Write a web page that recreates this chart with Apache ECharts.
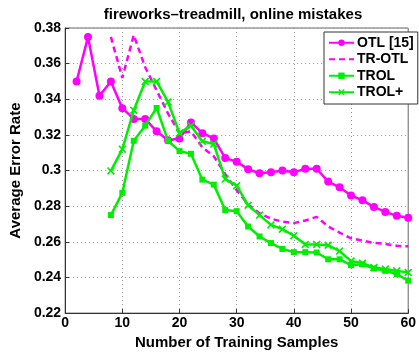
<!DOCTYPE html>
<html><head><meta charset="utf-8">
<script src="https://cdn.jsdelivr.net/npm/echarts@6/dist/echarts.min.js"></script>
<style>html,body{margin:0;padding:0;background:#fff}#c{width:419px;height:355px}</style>
</head><body><div id="c"></div>
<script>
const titleText = 'fireworks\u2013treadmill, online mistakes';
const xName = 'Number of Training Samples';
const yName = 'Average Error Rate';
const seriesNames = ['OTL [15]', 'TR-OTL', 'TROL', 'TROL+'];
const xOTL = [2,4,6,8,10,12,14,16,18,20,22,24,26,28,30,32,34,36,38,40,42,44,46,48,50,52,54,56,58,60];
const otl = [0.350,0.375,0.342,0.350,0.335,0.329,0.329,0.322,0.317,0.318,0.327,0.321,0.318,0.307,0.305,0.3007,0.2985,0.299,0.300,0.299,0.301,0.301,0.2938,0.2906,0.286,0.2833,0.2796,0.2768,0.2746,0.2735];
const xRest = [8,10,12,14,16,18,20,22,24,26,28,30,32,34,36,38,40,42,44,46,48,50,52,54,56,58,60];
const trotl = [0.375,0.352,0.376,0.358,0.345,0.332,0.321,0.322,0.313,0.308,0.298,0.289,0.281,0.276,0.273,0.2713,0.2705,0.272,0.274,0.2686,0.2652,0.262,0.2607,0.2594,0.2588,0.2578,0.2575];
const trol = [0.275,0.2875,0.3167,0.3252,0.3351,0.3167,0.3109,0.3094,0.2949,0.2921,0.2778,0.2772,0.2686,0.263,0.2593,0.256,0.2542,0.2542,0.254,0.2502,0.2502,0.2469,0.2474,0.245,0.2437,0.2419,0.2382];
const trolPlus = [0.2998,0.312,0.3338,0.350,0.350,0.3385,0.321,0.3252,0.3164,0.3149,0.2952,0.2915,0.2805,0.275,0.2695,0.2671,0.2634,0.2585,0.2585,0.2581,0.2548,0.2492,0.248,0.2456,0.2447,0.2437,0.2428];

const zip = (xs, ys) => xs.map((x, i) => [x, ys[i]]);
const MAG = '#ff00ff', GRN = '#00ee00';
const FONT = 'Liberation Sans';
const xMark = 'path://M0,1.5L1.5,0L5,3.5L8.5,0L10,1.5L6.5,5L10,8.5L8.5,10L5,6.5L1.5,10L0,8.5L3.5,5Z';

const chart = echarts.init(document.getElementById('c'), null, {renderer: 'canvas'});
chart.setOption({
  animation: false,
  backgroundColor: '#fff',
  textStyle: {fontFamily: FONT},
  title: {text: titleText, left: 228, top: 2, textAlign: 'center',
    textStyle: {fontFamily: FONT, fontWeight: 'bold', fontSize: 15, color: '#000'}},
  grid: {left: 48, right: 3, top: 28, bottom: 37, show: true, borderColor: '#666', borderWidth: 1},
  legend: {
    orient: 'vertical', left: 324, top: 32, width: 89,
    padding: [3, 4, 4, 4], itemGap: 1, itemWidth: 25, itemHeight: 8,
    backgroundColor: '#fff', borderColor: '#333', borderWidth: 1,
    textStyle: {fontFamily: FONT, fontWeight: 'bold', fontSize: 14, color: '#000', lineHeight: 15.5, padding: [0,0,0,-2]},
    data: [seriesNames[0], {name: seriesNames[1], itemStyle: {opacity: 0}}, seriesNames[2], seriesNames[3]]
  },
  xAxis: {
    type: 'value', min: 0, max: 60, interval: 10,
    name: xName, nameLocation: 'middle', nameGap: 16,
    nameTextStyle: {fontFamily: FONT, fontWeight: 'bold', fontSize: 15, color: '#000'},
    axisLine: {show: true, lineStyle: {color: '#333', width: 1}},
    axisTick: {show: true, inside: true, length: 4, lineStyle: {color: '#333'}},
    axisLabel: {fontFamily: FONT, fontWeight: 'bold', fontSize: 14, color: '#000', margin: 3},
    splitLine: {show: true, lineStyle: {color: '#999', type: [1, 3], width: 1}}
  },
  yAxis: {
    type: 'value', min: 0.22, max: 0.38, interval: 0.02,
    name: yName, nameLocation: 'middle', nameGap: 38, nameRotate: 90,
    nameTextStyle: {fontFamily: FONT, fontWeight: 'bold', fontSize: 15, color: '#000'},
    axisLine: {show: true, lineStyle: {color: '#333', width: 1}},
    axisTick: {show: true, inside: true, length: 4, lineStyle: {color: '#333'}},
    axisLabel: {fontFamily: FONT, fontWeight: 'bold', fontSize: 14, color: '#000', margin: 4,
      formatter: v => String(+v.toFixed(2))},
    splitLine: {show: true, lineStyle: {color: '#999', type: [1, 3], width: 1}}
  },
  series: [
    {name: seriesNames[0], type: 'line', data: zip(xOTL, otl), color: MAG,
      symbol: 'circle', symbolSize: 8, lineStyle: {width: 2.5, color: MAG}, itemStyle: {color: MAG}, z: 2},
    {name: seriesNames[1], type: 'line', data: zip(xRest, trotl), color: MAG,
      symbol: 'none', showSymbol: false, lineStyle: {width: 2.5, color: MAG, type: [6, 4]}, itemStyle: {color: MAG}, z: 1},
    {name: seriesNames[2], type: 'line', data: zip(xRest, trol), color: GRN,
      symbol: 'rect', symbolSize: 6, lineStyle: {width: 2.5, color: GRN}, itemStyle: {color: GRN}, z: 3},
    {name: seriesNames[3], type: 'line', data: zip(xRest, trolPlus), color: GRN,
      symbol: xMark, symbolSize: 8, lineStyle: {width: 2.5, color: GRN}, itemStyle: {color: GRN}, z: 4}
  ]
});
</script></body></html>
